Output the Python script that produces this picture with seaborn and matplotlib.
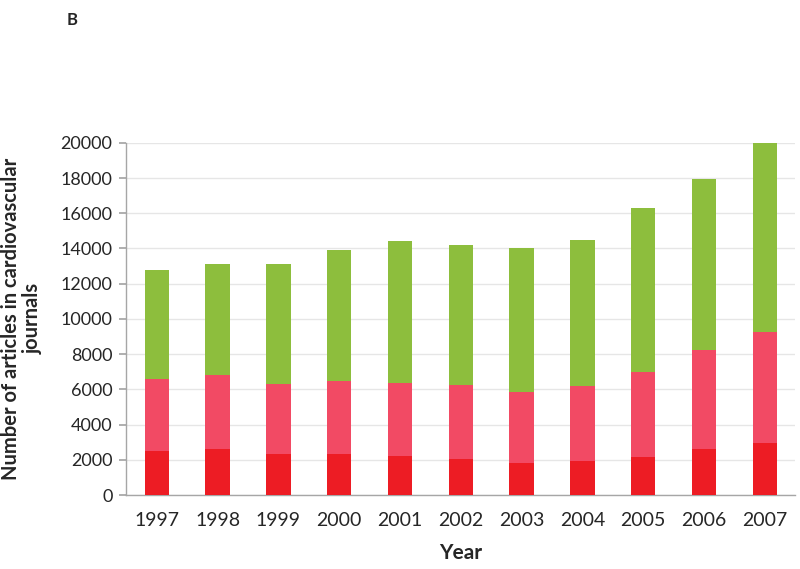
import numpy as np
import pandas as pd
import matplotlib
matplotlib.use("Agg")
import matplotlib.pyplot as plt
import seaborn as sns

years = ["1997", "1998", "1999", "2000", "2001", "2002", "2003", "2004", "2005", "2006", "2007"]
# stacked segments, bottom to top
bottom_seg = [2500, 2600, 2350, 2350, 2200, 2050, 1800, 1950, 2150, 2600, 2950]
middle_seg = [4100, 4200, 3950, 4100, 4150, 4200, 4050, 4250, 4850, 5650, 6300]
top_seg = [6150, 6300, 6800, 7450, 8050, 7950, 8150, 8300, 9300, 9700, 10750]

colors = ["#ED1C24", "#F24A64", "#8DBE3D"]

sns.set_theme(style="white")
plt.rcParams["font.family"] = ["Lato", "DejaVu Sans"]

df = pd.DataFrame({"year": years,
                   "s1": bottom_seg,
                   "s2": np.array(bottom_seg) + np.array(middle_seg),
                   "s3": np.array(bottom_seg) + np.array(middle_seg) + np.array(top_seg)})

fig = plt.figure(figsize=(8, 5.69), dpi=100)
ax = fig.add_axes([0.158, 0.13, 0.836, 0.619])

# draw cumulative totals from tallest down so they stack
for col, c in zip(["s3", "s2", "s1"], colors[::-1]):
    sns.barplot(data=df, x="year", y=col, color=c, width=0.4, ax=ax,
                saturation=1, linewidth=0, zorder=3)

ax.set_ylim(0, 20000)
ax.set_xlim(-0.5, 10.5)
ax.set_yticks(np.arange(0, 20001, 2000))
ax.yaxis.grid(True, color="#E6E6E6", linewidth=1, zorder=0)
ax.set_axisbelow(True)

for s in ["top", "right"]:
    ax.spines[s].set_visible(False)
for s in ["left", "bottom"]:
    ax.spines[s].set_color("#A6A6A6")
    ax.spines[s].set_linewidth(1)

ax.set_xticks(np.arange(len(years)))
ax.set_xticklabels(years, fontsize=14)
ax.set_xticks(np.arange(-0.5, len(years)), minor=True)
ax.tick_params(axis="x", which="major", length=0, pad=12)
ax.tick_params(axis="x", which="minor", length=5, color="#A6A6A6", direction="out")
ax.tick_params(axis="y", length=5, color="#A6A6A6", labelsize=13, left=True, pad=5)

ax.set_xlabel("Year", fontsize=15, fontweight="bold", labelpad=10)
ax.set_ylabel("Number of articles in cardiovascular\njournals", fontsize=14.5,
              fontweight="bold", linespacing=1.1)
ax.yaxis.set_label_coords(-0.125, 0.5)

fig.text(0.083, 0.965, "B", fontsize=12, fontweight="bold", ha="left", va="center")

fig.savefig("out.png", dpi=100)
